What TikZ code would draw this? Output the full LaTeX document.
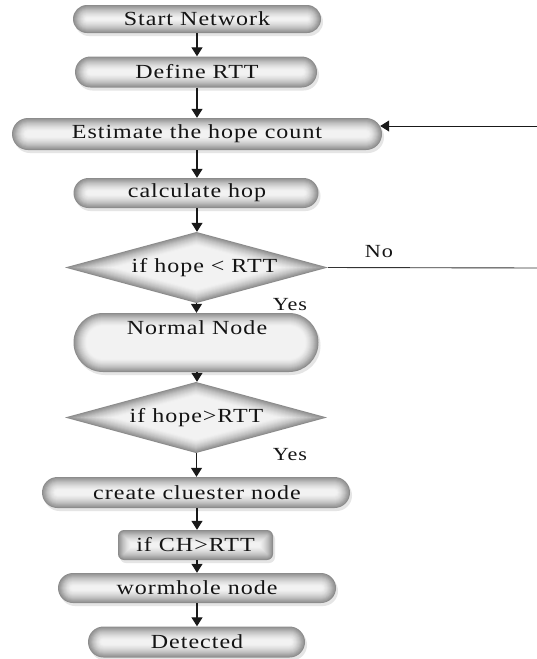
\documentclass[tikz,border=0pt]{standalone}
\usepackage{fontspec}
\setmainfont{Liberation Serif}[FakeStretch=1.2, LetterSpace=5]
\usetikzlibrary{arrows.meta,shapes.geometric}
\tikzset{
  txt/.style={inner sep=0pt, font=\fontsize{20}{24}\selectfont, text=black!92},
  dia/.style={txt, shape=diamond, aspect=3.7},
  arr/.style={line width=1.3pt, black!90, -{Triangle[width=11pt,length=9pt]}},
  plainline/.style={line width=0.9pt, black!80},
  lbl/.style={inner sep=0pt, font=\fontsize{18.5}{22}\selectfont, text=black!92},
}
% shaded box: name, cx, cy, w, h, radius
\newcommand\shadedbox[6]{%
  \fill[black!10, rounded corners=#6 pt] (#2-#4/2+2,#3-#5/2+3) rectangle (#2+#4/2+2,#3+#5/2+3);
  \foreach \i in {0,...,14}{%
    \pgfmathsetmacro\dd{\i*1.0}%
    \pgfmathtruncatemacro\cc{5+40*(1-\i/14)^1.6}%
    \pgfmathsetmacro\rr{max(#6-\dd,0.5)}%
    \fill[black!\cc, rounded corners=\rr pt] (#2-#4/2+\dd,#3-#5/2+\dd) rectangle (#2+#4/2-\dd,#3+#5/2-\dd);
  }%
}
\newcommand\shadeddiamond[5]{%
  \foreach \i in {0,...,14}{%
    \pgfmathsetmacro\dd{\i*1.0}%
    \pgfmathtruncatemacro\cc{5+40*(1-\i/14)^1.6}%
    \pgfmathsetmacro\ll{veclen(#4/2,#5/2)}%
    \pgfmathsetmacro\aa{#4/2-\dd*\ll/(#5/2)}%
    \pgfmathsetmacro\bb{#5/2-\dd*\ll/(#4/2)}%
    \fill[black!\cc] (#2-\aa,#3) -- (#2,#3-\bb) -- (#2+\aa,#3) -- (#2,#3+\bb) -- cycle;
  }%
}
\begin{document}
\begin{tikzpicture}[x=1pt,y=-1pt]
\useasboundingbox (0,0) rectangle (537,659);
\fill[white] (0,0) rectangle (537,659);
% shaded shapes
\shadedbox{start}{197}{19}{248}{28}{14}
\shadedbox{def}{196}{72}{242}{31}{15.5}
\shadedbox{est}{197}{134}{370}{32}{16}
\shadedbox{calc}{196}{193}{245}{30}{15}
\shadeddiamond{d1}{196.5}{267.5}{263}{71}
\shadedbox{norm}{196}{342.5}{245}{59}{29.5}
\shadeddiamond{d2}{196}{417.5}{262}{71}
\shadedbox{clus}{196}{492.5}{308}{31}{15.5}
\shadedbox{ch}{195.5}{545}{155}{30}{6}
\shadedbox{worm}{197}{588}{278}{30}{15}
\shadedbox{det}{196.5}{642}{217}{31}{15.5}
% nodes
\node[txt, minimum width=248, minimum height=28] (start) at (197,19) {Start Network};
\node[txt, minimum width=242, minimum height=31] (def) at (197,72) {Define RTT};
\node[txt, minimum width=370, minimum height=32] (est) at (197,134) {Estimate the hope count};
\node[txt, minimum width=245, minimum height=30] (calc) at (197,193) {calculate hop};
\node[dia, minimum width=263, minimum height=71] (d1) at (196.5,267.5) {\hspace*{16pt}if hope < RTT};
\node[txt, minimum width=245, minimum height=59, text height=13.5pt, text depth=29.5pt] (norm) at (197,342.5) {Normal Node};
\node[dia, minimum width=262, minimum height=71] (d2) at (196.5,417.5) {if hope>RTT};
\node[txt, minimum width=308, minimum height=31] (clus) at (197,492.5) {create cluester node};
\node[txt, minimum width=155, minimum height=30] (ch) at (195.5,545) {if CH>RTT};
\node[txt, minimum width=278, minimum height=30] (worm) at (197,588) {wormhole node};
\node[txt, minimum width=217, minimum height=31] (det) at (197,642) {Detected};
% labels
\node[lbl] (no) at (379,252) {No};
\node[lbl] (yes1) at (290,305) {Yes};
\node[lbl] (yes2) at (290,455) {Yes};
\coordinate (noend) at (537,268);
\coordinate (fbstart) at (537,126);
% connectors
\draw[arr] (start.south) -- (start.south |- def.north);
\draw[arr] (def.south) -- (def.south |- est.north);
\draw[arr] (est.south) -- (est.south |- calc.north);
\draw[arr] (calc.south) -- (calc.south |- d1.north);
\draw[arr] (d1.south) -- (d1.south |- norm.north);
\draw[arr] (norm.south) -- (norm.south |- d2.north);
\draw[arr] (d2.south) -- (d2.south |- clus.north);
\draw[arr] (clus.south) -- (clus.south |- ch.north);
\draw[arr] (clus.south |- ch.south) -- (clus.south |- worm.north);
\draw[arr] (worm.south) -- (worm.south |- det.north);
\draw[plainline] (d1.east) -- (noend);
\draw[arr, line width=1pt] (fbstart) -- ([xshift=-2pt]fbstart -| est.east);
\end{tikzpicture}
\end{document}
